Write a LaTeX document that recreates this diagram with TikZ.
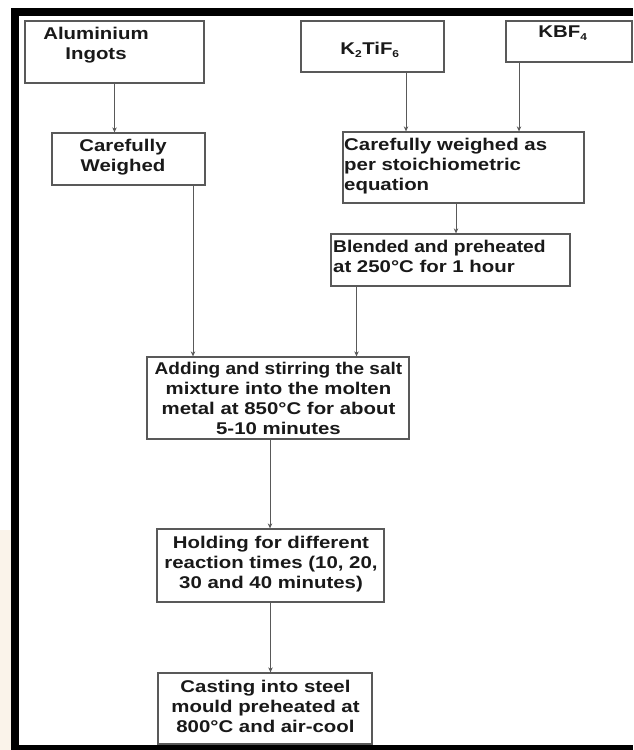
\documentclass[tikz,border=0pt]{standalone}
\usepackage{fontspec}
\setmainfont{Liberation Sans}[FakeStretch=1.2]
\usetikzlibrary{arrows.meta}
\definecolor{edge}{gray}{0.35}
\definecolor{beige}{RGB}{250,243,234}
\newcommand\sbs[1]{\textsubscript{\fontsize{10}{10}\selectfont #1}}
\begin{document}
\begin{tikzpicture}[x=1pt,y=-1pt,
  box/.style={draw=edge, line width=1.3pt, inner sep=0pt, fill=white},
  txt/.style={font=\bfseries\fontsize{17}{20}\selectfont, inner sep=0pt, align=center, text=black!90},
  txtl/.style={txt, align=left, anchor=west},
  arr/.style={draw=edge, line width=1pt, -{Stealth[length=5pt,width=4.5pt]}}]
\useasboundingbox (0,0) rectangle (633,750);
\fill[white] (0,0) rectangle (633,750);
\fill[beige] (0,530) rectangle (11,750);
% frame
\fill[black] (11,8) rectangle (633,16);
\fill[black] (11,8) rectangle (19,750);
\fill[black] (11,745) rectangle (633,750);
% boxes
\node[box, minimum width=179pt, minimum height=62pt] (al) at (114.5,52) {};
\node[box, minimum width=143pt, minimum height=51pt] (k2) at (372.5,46.5) {};
\node[box, minimum width=126pt, minimum height=41pt] (kb) at (569,41.5) {};
\node[box, minimum width=153pt, minimum height=52pt] (cw) at (128.5,159) {};
\node[box, minimum width=241pt, minimum height=71pt] (st) at (463.5,167.5) {};
\node[box, minimum width=239pt, minimum height=52pt] (bl) at (450.5,260) {};
\node[box, minimum width=262pt, minimum height=82pt] (ad) at (278,398) {};
\node[box, minimum width=227pt, minimum height=73pt] (ho) at (270.5,565.5) {};
\node[box, minimum width=214pt, minimum height=71pt] (ca) at (265,708.5) {};
% texts
\node[txt] (alt) at (96,45.5) {Aluminium\\Ingots};
\node[txt] (k2t) at (370,50) {K\sbs{2}TiF\sbs{6}};
\node[txt] (kbt) at (563,33) {KBF\sbs{4}};
\node[txt] (cwt) at (123,157) {Carefully\\Weighed};
\node[txtl] (stt) at (344,166) {Carefully weighed as\\per stoichiometric\\equation};
\node[txtl] (blt) at (333,256.5) {\addfontfeatures{FakeStretch=1.13}Blended and preheated\\at 250°C for 1 hour};
\node[txt] (adt) at (278.5,398) {\addfontfeatures{FakeStretch=1.12}Adding and stirring the salt\\mixture into the molten\\metal at 850°C for about\\5-10 minutes};
\node[txt] (hot) at (271,564) {Holding for different\\reaction times (10, 20,\\30 and 40 minutes)};
\node[txt] (cat) at (265.5,706.5) {Casting into steel\\mould preheated at\\800°C and air-cool};
% connectors
\draw[arr] (al.south) -- (al.south |- cw.north);
\draw[arr] ([xshift=33.5pt]k2.south) -- ([xshift=33.5pt]k2.south |- st.north);
\draw[arr] ([xshift=-50pt]kb.south) -- ([xshift=-50pt]kb.south |- st.north);
\draw[arr] ([xshift=-7.5pt]st.south) -- ([xshift=-7.5pt]st.south |- bl.north);
\draw[arr] ([xshift=64.5pt]cw.south) -- ([xshift=64.5pt]cw.south |- ad.north);
\draw[arr] ([xshift=-94pt]bl.south) -- ([xshift=-94pt]bl.south |- ad.north);
\draw[arr] ([xshift=-8pt]ad.south) -- ([xshift=-8pt]ad.south |- ho.north);
\draw[arr] (ho.south) -- (ho.south |- ca.north);
\end{tikzpicture}
\end{document}
